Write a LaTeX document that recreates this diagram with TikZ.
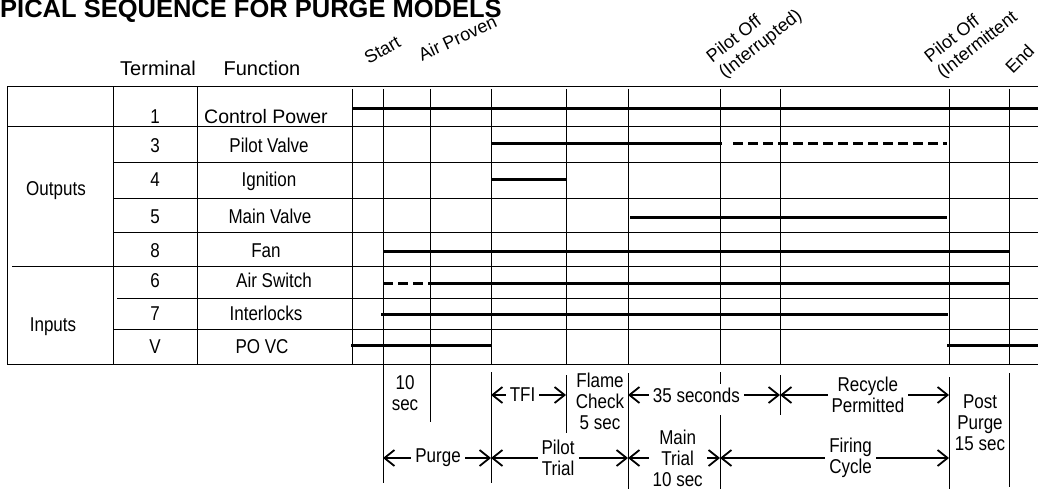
\documentclass[tikz,border=0pt]{standalone}
\usepackage{fontspec}
\setmainfont{Liberation Sans}
\newfontfamily\narrow{Liberation Sans}[FakeStretch=0.85]
\usetikzlibrary{arrows.meta, positioning, calc}

\begin{document}
\begin{tikzpicture}[x=1pt, y=-1pt, >={Straight Barb[length=10pt, width=16pt]}]
    \tikzstyle{gridline} = [line width=1pt]
    \tikzstyle{wave} = [line width=3pt]
    \tikzstyle{brokenwave} = [line width=3pt, dash pattern=on 10pt off 5pt]
    \tikzstyle{cell} = [font=\narrow\fontsize{20}{22}\selectfont, anchor=base, inner sep=0pt]
    \tikzstyle{head} = [font=\fontsize{20}{22}\selectfont, anchor=base, inner sep=0pt]
    \tikzstyle{event} = [font=\fontsize{18}{20}\selectfont, anchor=south west, align=left, inner sep=0pt]
    \tikzstyle{dimline} = [line width=1.8pt, <->]
    \tikzstyle{note} = [font=\narrow\fontsize{20}{21}\selectfont, align=center, inner sep=0pt]
    \tikzstyle{tag} = [note, fill=white, inner sep=4pt]

    \useasboundingbox (0,0) rectangle (1038,489);
    \clip (0,0) rectangle (1038,489);

    \node [font=\bfseries\fontsize{25.5}{28}\selectfont, anchor=base west, inner sep=0pt] (title) at (0,17.5) {PICAL SEQUENCE FOR PURGE MODELS};

    % column heads and event marks
    \node [head] (terminal) at (158,76) {Terminal};
    \node [head] (function) at (262,76) {Function};
    \node [event, rotate=30] (start) at (369,65) {Start};
    \node [event, rotate=25] (airproven) at (422,62) {Air Proven};
    \node [event, rotate=38] (pilotoff1) at (727,82) {Pilot Off\\(Interrupted)};
    \node [event, rotate=38] (pilotoff2) at (945,82) {Pilot Off\\(Intermittent};
    \node [event, rotate=45] (end) at (1013,75) {End};

    % table frame
    \draw [gridline] (7,87) -- (1038,87);
    \draw [gridline] (7,127) -- (1038,127);
    \draw [gridline] (113,163) -- (1038,163);
    \draw [gridline] (113,199) -- (1038,199);
    \draw [gridline] (113,232) -- (1038,232);
    \draw [gridline] (12,266) -- (1038,266);
    \draw [gridline] (117,298) -- (1038,298);
    \draw [gridline] (113,329) -- (1038,329);
    \draw [gridline] (7,364) -- (1038,364);
    \draw [gridline] (7,87) -- (7,364);
    \draw [gridline] (113,87) -- (113,364);
    \draw [gridline] (197,87) -- (197,364);
    \foreach \x in {352,383,430,491,566,628,720,780,949,1009}
        \draw [gridline] (\x,89) -- (\x,364);

    % rows
    \node [cell] (term-1) at (155,124) {1};
    \node [head, font=\fontsize{19.5}{22}\selectfont] (fn-1) at (266,124) {Control Power};
    \foreach \y/\t/\f/\fx in {153/3/Pilot Valve/269, 187/4/Ignition/269,
                              223/5/Main Valve/270, 257/8/Fan/266, 287/6/Air Switch/274,
                              320/7/Interlocks/266, 353/V/PO VC/262}
    {
        \node [cell] (term-\t) at (155,\y) {\t};
        \node [cell] (fn-\t) at (\fx,\y) {\f};
    }
    \node [cell] (outputs) at (56,196) {Outputs};
    \node [cell] (inputs) at (53,331) {Inputs};

    % signal traces
    \draw [wave] (352,109) -- (1038,109);
    \draw [wave] (491,144) -- (722,144);
    \draw [brokenwave] (733,144) -- (947,144);
    \draw [wave] (491,180) -- (567,180);
    \draw [wave] (630,217) -- (947,217);
    \draw [wave] (383,251) -- (1009,251);
    \draw [brokenwave] (383,283) -- (430,283);
    \draw [wave] (430,283) -- (1009,283);
    \draw [wave] (381,314) -- (948,314);
    \draw [wave] (351,345) -- (491,345);
    \draw [wave] (947,345) -- (1038,345);

    % timing marks below the table
    \foreach \x/\a/\b in {383/364/483, 430/364/422, 491/372/483, 566/375/433, 628/373/489,
                          720/372/387, 720/415/489, 780/375/415, 949/377/489, 1009/373/487}
        \draw [gridline] (\x,\a) -- (\x,\b);
    \foreach \n/\x in {start/383, pilot/491, flame/566, main/628, off/720, recyc/780, post/949}
    {
        \coordinate (\n-a) at (\x,395);
        \coordinate (\n-b) at (\x,458);
    }

    \node [note] (tensec) at (405,393) {10\\sec};
    \node [note] (flamechk) at (600,401) {Flame\\Check\\5 sec};
    \node [note] (postpurge) at (980,423) {Post\\Purge\\15 sec};

    \draw [dimline] (pilot-a) -- node [tag, pos=0.42] (tfi) {TFI} (flame-a);
    \draw [dimline] (main-a) -- node [tag, pos=0.45] (thirtyfive) {35 seconds} (recyc-a);
    \draw [dimline] (recyc-a) -- node [tag, pos=0.52] (recycle) {Recycle\\Permitted} (post-a);
    \draw [dimline] (start-b) -- node [tag, pos=0.51] (purge) {Purge} (pilot-b);
    \draw [dimline] (pilot-b) -- node [tag, pos=0.49] (pilottrial) {Pilot\\Trial} (main-b);
    \draw [dimline] (main-b) -- node [tag, pos=0.54] (maintrial) {Main\\Trial\\10 sec} (off-b);
    \draw [dimline] (off-b) -- node [tag, pos=0.57] (firing) {Firing\\Cycle} (post-b);
\end{tikzpicture}
\end{document}
